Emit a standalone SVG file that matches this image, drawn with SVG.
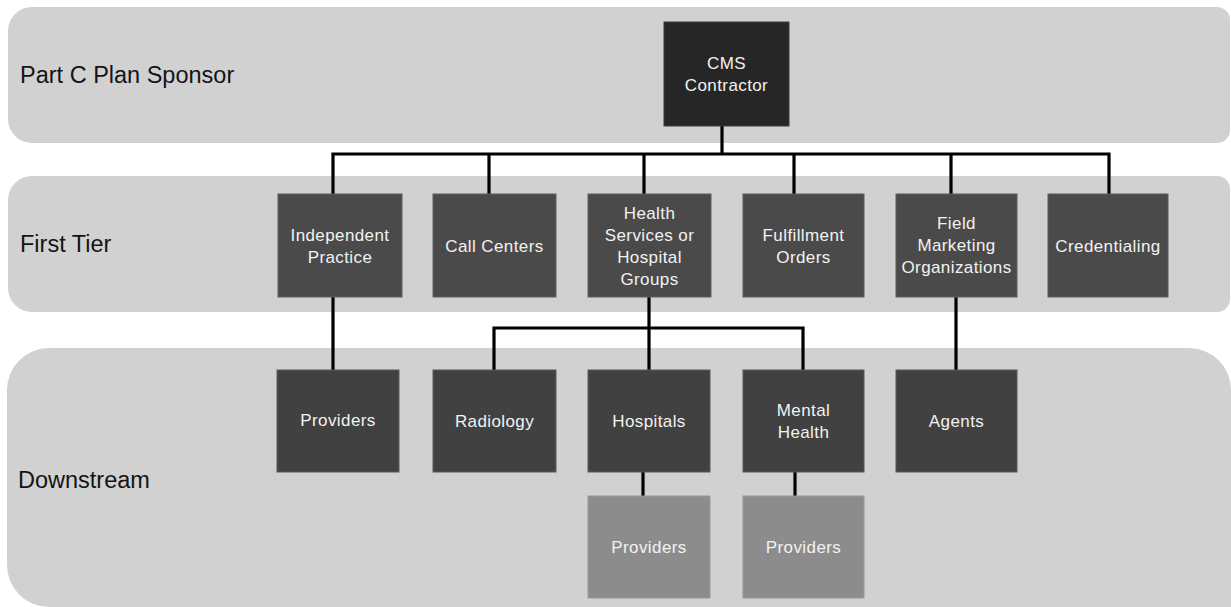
<svg xmlns="http://www.w3.org/2000/svg" width="1231" height="607" viewBox="0 0 1231 607">
<style>
.band{fill:#d1d1d1}
.lbl{font-family:"Liberation Sans",Arial,sans-serif;font-size:23.5px;fill:#141414}
.box text{font-family:"Liberation Sans",Arial,sans-serif;font-size:17px;letter-spacing:0.4px;fill:#f2f2f2;text-anchor:middle}
.cms rect{fill:#262626;stroke:#3c3c3c;stroke-width:1}
.t1 rect{fill:#4a4a4a;stroke:#5e5e5e;stroke-width:1}
.ds rect{fill:#414141;stroke:#5a5a5a;stroke-width:1}
.pv rect{fill:#8c8c8c;stroke:#9a9a9a;stroke-width:1}
#connectors path{fill:none;stroke:#000;stroke-width:3.2;stroke-linejoin:miter}
</style>
<g id="bands">
<path class="band" d="M32,7 H1217 A13,13 0 0 1 1230,20 V130 A13,13 0 0 1 1217,143 H32 A24,24 0 0 1 8,119 V31 A24,24 0 0 1 32,7 Z"/>
<path class="band" d="M32,176 H1217 A13,13 0 0 1 1230,189 V299 A13,13 0 0 1 1217,312 H32 A24,24 0 0 1 8,288 V200 A24,24 0 0 1 32,176 Z"/>
<path class="band" d="M49,348 H1189 A42,42 0 0 1 1231,390 V607 H49 A42,42 0 0 1 7,565 V390 A42,42 0 0 1 49,348 Z"/>
<text class="lbl" x="20" y="83">Part C Plan Sponsor</text>
<text class="lbl" x="20" y="252">First Tier</text>
<text class="lbl" x="18" y="488">Downstream</text>
</g>
<g id="connectors">
<path d="M722,126 V154"/>
<path d="M333,194 V154 H1109 V194"/>
<path d="M489,154 V194"/>
<path d="M644,154 V194"/>
<path d="M794,154 V194"/>
<path d="M951,154 V194"/>
<path d="M333,297 V370"/>
<path d="M649,297 V370"/>
<path d="M494,370 V328 H803 V370"/>
<path d="M956,297 V370"/>
<path d="M643,472 V496"/>
<path d="M795,472 V496"/>
</g>
<g id="cms" class="box cms"><rect x="664" y="22" width="125" height="104"/><text x="726.5" y="69">CMS</text><text x="726.5" y="91">Contractor</text></g>
<g id="independent-practice" class="box t1"><rect x="278" y="194" width="124" height="103"/><text x="340" y="241">Independent</text><text x="340" y="263">Practice</text></g>
<g id="call-centers" class="box t1"><rect x="433" y="194" width="123" height="103"/><text x="494.5" y="252">Call Centers</text></g>
<g id="health-services" class="box t1"><rect x="588" y="194" width="123" height="103"/><text x="649.5" y="219">Health</text><text x="649.5" y="241">Services or</text><text x="649.5" y="263">Hospital</text><text x="649.5" y="285">Groups</text></g>
<g id="fulfillment-orders" class="box t1"><rect x="743" y="194" width="121" height="103"/><text x="803.5" y="241">Fulfillment</text><text x="803.5" y="263">Orders</text></g>
<g id="field-marketing" class="box t1"><rect x="896" y="194" width="121" height="103"/><text x="956.5" y="229">Field</text><text x="956.5" y="251">Marketing</text><text x="956.5" y="273">Organizations</text></g>
<g id="credentialing" class="box t1"><rect x="1048" y="194" width="120" height="103"/><text x="1108" y="252">Credentialing</text></g>
<g id="providers-ip" class="box ds"><rect x="277" y="370" width="122" height="102"/><text x="338" y="426">Providers</text></g>
<g id="radiology" class="box ds"><rect x="433" y="370" width="123" height="102"/><text x="494.5" y="427">Radiology</text></g>
<g id="hospitals" class="box ds"><rect x="588" y="370" width="122" height="102"/><text x="649" y="427">Hospitals</text></g>
<g id="mental-health" class="box ds"><rect x="743" y="370" width="121" height="102"/><text x="803.5" y="416">Mental</text><text x="803.5" y="438">Health</text></g>
<g id="agents" class="box ds"><rect x="896" y="370" width="121" height="102"/><text x="956.5" y="427">Agents</text></g>
<g id="providers-hospitals" class="box pv"><rect x="588" y="496" width="122" height="102"/><text x="649" y="553">Providers</text></g>
<g id="providers-mental" class="box pv"><rect x="743" y="496" width="121" height="102"/><text x="803.5" y="553">Providers</text></g>
</svg>
